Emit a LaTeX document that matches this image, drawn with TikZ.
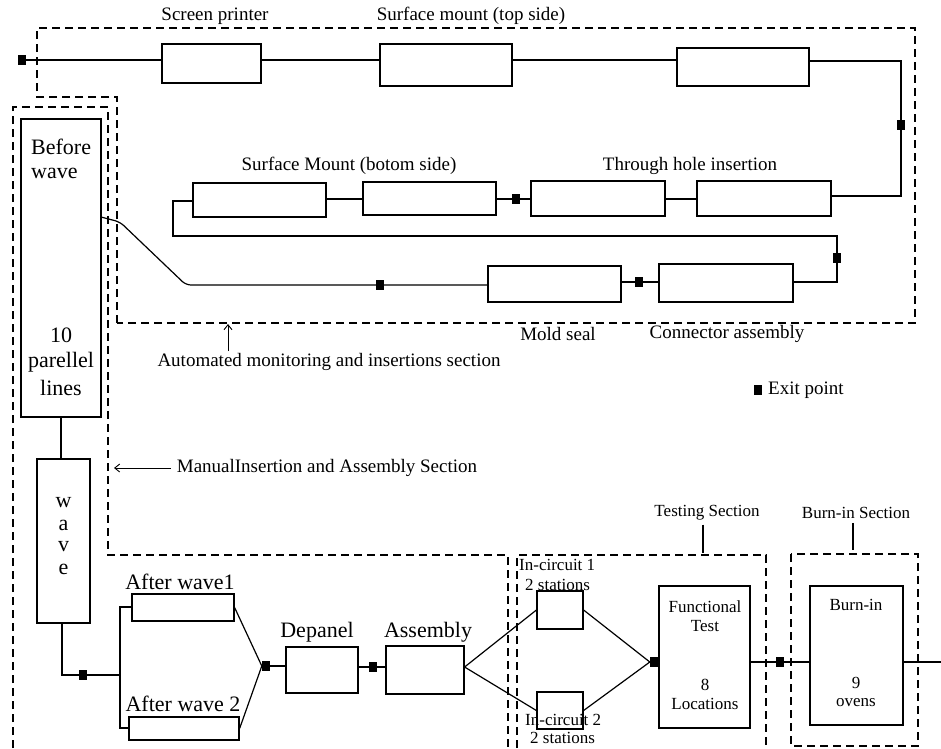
\documentclass[tikz,border=0pt]{standalone}
\usepackage{fontspec}
\setmainfont{Liberation Serif}
\usetikzlibrary{arrows.meta}
\begin{document}
\begin{tikzpicture}[x=1pt,y=-1pt,
  bx/.style 2 args={draw,line width=1.2pt,inner sep=0pt,minimum width=#1pt,minimum height=#2pt},
  ep/.style={fill=black,inner sep=0pt,minimum width=8pt,minimum height=10pt},
  sect/.style={line width=1.2pt,dash pattern=on 8pt off 5pt},
  wire/.style={line width=1.2pt},
  lab/.style={font=\fontsize{19}{22}\selectfont,inner sep=0pt},
  big/.style={font=\fontsize{22}{26}\selectfont,inner sep=0pt},
  sm/.style={font=\fontsize{17}{19}\selectfont,inner sep=0pt},
  arr/.style={line width=0.9pt,-{Straight Barb[length=5pt,width=8pt]}}]
\useasboundingbox (0,0) rectangle (941,748);

% ---------- sections (dashed) ----------
\draw[sect] (117,323) -- (117,97) -- (37,97) -- (37,28) -- (915,28) -- (915,323) -- cycle;
\draw[sect] (13,748) -- (13,107) -- (108,107) -- (108,555) -- (508,555) -- (508,748);
\draw[sect] (517,748) -- (517,555) -- (766,555) -- (766,748);
\draw[sect] (791,554) rectangle (918,746);

% ---------- top row ----------
\node[ep] (ep0) at (22,60) {};
\node[bx={99}{39}] (sp) at (211.5,63.5) {};
\node[bx={132}{42}] (smt) at (446,65) {};
\node[bx={132}{38}] (b3) at (743,67) {};
\node[lab] (lsp) at (215,16) {Screen printer};
\node[lab] (lsmt) at (471,16) {Surface mount (top side)};

% ---------- second row ----------
\node[bx={133}{34}] (A1) at (259.5,200) {};
\node[bx={133}{33}] (A2) at (429.5,198.5) {};
\node[bx={134}{35}] (A3) at (598,198.5) {};
\node[bx={134}{35}] (A4) at (764,198.5) {};
\node[lab] (lsmb) at (349,166) {Surface Mount (botom side)};
\node[lab] (lthi) at (690,166) {Through hole insertion};

% ---------- third row ----------
\node[bx={133}{36}] (C1) at (554.5,284) {};
\node[bx={134}{38}] (C2) at (726,283) {};
\node[lab] (lms) at (558,334) {Mold seal};
\node[lab] (lca) at (727,334) {Connector assembly};

% ---------- left column ----------
\node[bx={80}{298}] (bw) at (61,268) {};
\node[big,anchor=west] (bw1) at (31,147) {Before};
\node[big,anchor=west] (bw2) at (31,173) {wave};
\node[big] (bw3) at (61,335) {10};
\node[big] (bw4) at (61,362) {parellel};
\node[big] (bw5) at (61,388) {lines};
\node[bx={53}{164}] (wv) at (63.5,541) {};
\node[big] (wv1) at (63.5,503) {w};
\node[big] (wv2) at (63.5,525) {a};
\node[big] (wv3) at (63.5,547) {v};
\node[big] (wv4) at (63.5,569) {e};

% ---------- bottom row ----------
\node[bx={102}{27}] (aw1) at (183,607.5) {};
\node[bx={110}{23}] (aw2) at (184,728.5) {};
\node[big] (law1) at (180,582) {After wave1};
\node[big] (law2) at (183,704) {After wave 2};
\node[bx={72}{46}] (dp) at (322,670) {};
\node[bx={78}{48}] (as) at (425,670) {};
\node[big] (ldp) at (317,632) {Depanel};
\node[big] (las) at (428,632) {Assembly};
\node[bx={46}{38}] (ic1) at (560,610) {};
\node[bx={46}{37}] (ic2) at (560,710.5) {};
\node[sm,anchor=west] (lic1) at (519,565) {In-circuit 1};
\node[sm,anchor=west] (lic1b) at (525,585) {2 stations};
\node[sm,anchor=west] (lic2) at (525,720) {In-circuit 2};
\node[sm,anchor=west] (lic2b) at (530,738) {2 stations};
\node[bx={91}{142}] (ft) at (704.5,657) {};
\node[sm] (ft1) at (705,607) {Functional};
\node[sm] (ft2) at (705,626) {Test};
\node[sm] (ft3) at (705,685) {8};
\node[sm] (ft4) at (705,704) {Locations};
\node[bx={93}{139}] (bi) at (856.5,655.5) {};
\node[sm] (bi1) at (856,605) {Burn-in};
\node[sm] (bi2) at (856,683) {9};
\node[sm] (bi3) at (856,703) {ovens};

% ---------- section labels ----------
\node[sm] (lts) at (707,513) {Testing Section};
\node[sm] (lbs) at (856,513) {Burn-in Section};
\coordinate (tt) at (703,553);
\coordinate (bt) at (853,550);
\draw[wire] (tt |- lts.south) ++(0,4) -- (tt);
\draw[wire] (bt |- lbs.south) ++(0,4) -- (bt);
\node[lab] (lam) at (329,362) {Automated monitoring and insertions section};
\coordinate (am) at (228,324);
\draw[arr] (am |- lam.north) ++(0,-2) -- (am);
\node[lab] (lmi) at (327,468) {ManualInsertion and Assembly Section};
\coordinate (mm) at (114,468);
\draw[arr] ([xshift=-6pt]lmi.west) -- (mm);

% ---------- legend ----------
\node[ep] (lg) at (758,390) {};
\node[lab,anchor=west] (lgt) at (768,390) {Exit point};

% ---------- connectors ----------
\draw[wire] (ep0) -- (ep0 -| sp.west);
\draw[wire] (sp.east |- ep0) -- (smt.west |- ep0);
\draw[wire] (smt.east |- ep0) -- (b3.west |- ep0);
\coordinate (c1) at (901,61);
\coordinate (c2) at (901,196);
\draw[wire] (b3.east |- c1) -- (c1) -- (c2) -- (c2 -| A4.east);
\node[ep] (ep1) at (901,125) {};
\node[ep] (ep2) at (516,199) {};
\draw[wire] (A4.west |- ep2) -- (A3.east |- ep2);
\draw[wire] (A3.west |- ep2) -- (A2.east |- ep2);
\draw[wire] (A2.west |- ep2) -- (A1.east |- ep2);
\coordinate (c3) at (173,201);
\coordinate (c4) at (173,236);
\coordinate (c5) at (837,236);
\coordinate (c6) at (837,282);
\draw[wire] (A1.west |- c3) -- (c3) -- (c4) -- (c5) -- (c6) -- (c6 -| C2.east);
\node[ep] (ep3) at (837,258) {};
\node[ep] (ep4) at (639,282) {};
\draw[wire] (C2.west |- ep4) -- (C1.east |- ep4);
\coordinate (c7) at (186,285);
\coordinate (c8) at (120,222);
\coordinate (c9) at (101,217);
\draw[wire,rounded corners=5pt] (C1.west |- c7) -- (c7) -- (c8) -- (c9);
\node[ep] (ep5) at (380,285) {};

\draw[wire] (bw.south) -- (bw.south |- wv.north);
\coordinate (d1) at (62,675);
\coordinate (j1) at (120,675);
\coordinate (j2) at (120,607);
\coordinate (j3) at (120,728);
\draw[wire] (wv.south -| d1) -- (d1) -- (j1);
\draw[wire] (aw1.west |- j2) -- (j2) -- (j3) -- (aw2.west |- j3);
\node[ep] (ep6) at (83,675) {};
\node[ep] (ep7) at (266,666) {};
\draw[wire] (aw1.east) -- (ep7.west);
\draw[wire] (aw2.east) -- (ep7.west);
\draw[wire] (ep7) -- (ep7 -| dp.west);
\node[ep] (ep8) at (373,667) {};
\draw[wire] (dp.east |- ep8) -- (ep8 -| as.west);
\draw[wire] (as.east |- ep8) -- (ic1.west);
\draw[wire] (as.east |- ep8) -- (ic2.west);
\node[ep] (ep9) at (654,662) {};
\draw[wire] (ic1.east) -- (ep9.west);
\draw[wire] (ic2.east) -- (ep9.west);
\node[ep] (ep10) at (780,662) {};
\coordinate (out) at (941,662);
\draw[wire] (ft.east |- ep10) -- (bi.west |- ep10);
\draw[wire] (bi.east |- ep10) -- (out);
\end{tikzpicture}
\end{document}
